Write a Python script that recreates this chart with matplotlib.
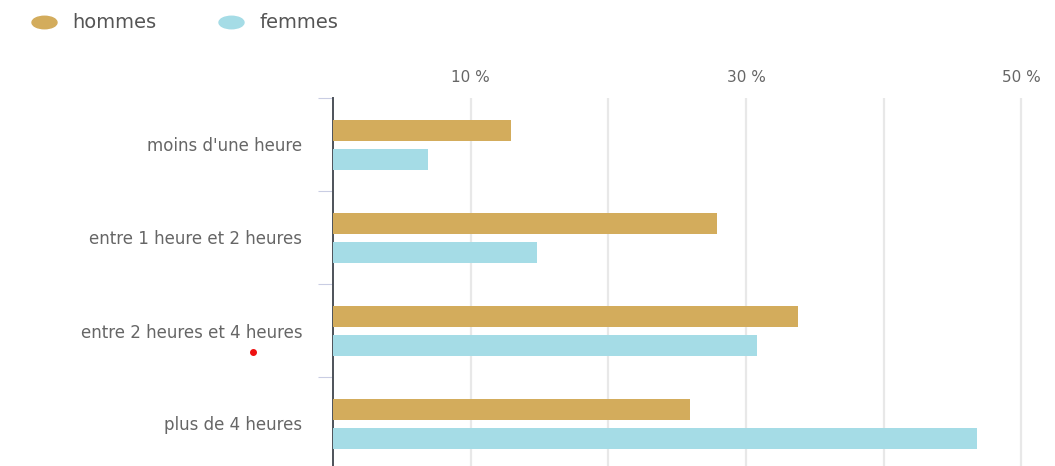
import matplotlib
matplotlib.use("Agg")
import matplotlib.pyplot as plt
import numpy as np
from matplotlib.lines import Line2D
from matplotlib.path import Path

# Durée -> part (%) hommes / femmes
categories = ["moins d'une heure", "entre 1 heure et 2 heures",
              "entre 2 heures et 4 heures", "plus de 4 heures"]
hommes = [12.9, 27.9, 33.8, 25.9]
femmes = [6.9, 14.8, 30.8, 46.8]
tick_vals = [10, 30, 50]
tick_labels = ["10 %", "30 %", "50 %"]
grid_vals = [10, 20, 30, 40, 50]

col_h = "#d3ac5c"
col_f = "#a5dce6"
txt = "#666666"

fig = plt.figure(figsize=(10.55, 4.66), dpi=100)
ax = fig.add_axes([333 / 1055, -4 / 466, 1 - 333 / 1055, (470 - 98) / 466])

y = np.arange(len(categories))
bh = 0.23
ax.barh(y - 0.15, hommes, height=bh, color=col_h, zorder=3)
ax.barh(y + 0.16, femmes, height=bh, color=col_f, zorder=3)

# grid
for g in grid_vals:
    ax.axvline(g, color="#e8e8e8", lw=1.6, zorder=1)

ax.set_xlim(0, 52.45)
ax.set_ylim(3.5, -0.5)

for s in ["top", "right", "bottom"]:
    ax.spines[s].set_visible(False)
ax.spines["left"].set_color("#4d5259")
ax.spines["left"].set_linewidth(1.4)

ax.xaxis.tick_top()
ax.set_xticks(tick_vals)
ax.set_xticklabels(tick_labels)
ax.tick_params(axis="x", length=0, pad=9, labelsize=11, labelcolor=txt)

ax.set_yticks(y)
ax.set_yticklabels(categories)
ax.tick_params(axis="y", which="major", length=0, pad=22, labelsize=12, labelcolor=txt)
ax.set_yticks(np.arange(-0.5, len(categories)), minor=True)
ax.tick_params(axis="y", which="minor", length=10.5, width=0.8, color="#c9cde3")

# legende avec pastilles ovales
circ = Path.unit_circle()
oval = Path(circ.vertices * np.array([1.0, 0.5]), circ.codes)
handles = [Line2D([], [], ls="", marker=oval, markersize=18, color=col_h),
           Line2D([], [], ls="", marker=oval, markersize=18, color=col_f)]
fig.legend(handles, ["hommes", "femmes"], loc="center left",
           bbox_to_anchor=(31 / 1055, 1 - 23 / 466), ncol=2, frameon=False,
           fontsize=14, labelcolor="#555555", handlelength=1.3,
           handletextpad=0.8, columnspacing=3.2, borderpad=0, borderaxespad=0)

# petit point rouge
fig.add_artist(Line2D([253 / 1055], [1 - 352 / 466], ls="", marker="o",
                      markersize=4, color="#ee1111"))

fig.savefig("out.png", dpi=100)
